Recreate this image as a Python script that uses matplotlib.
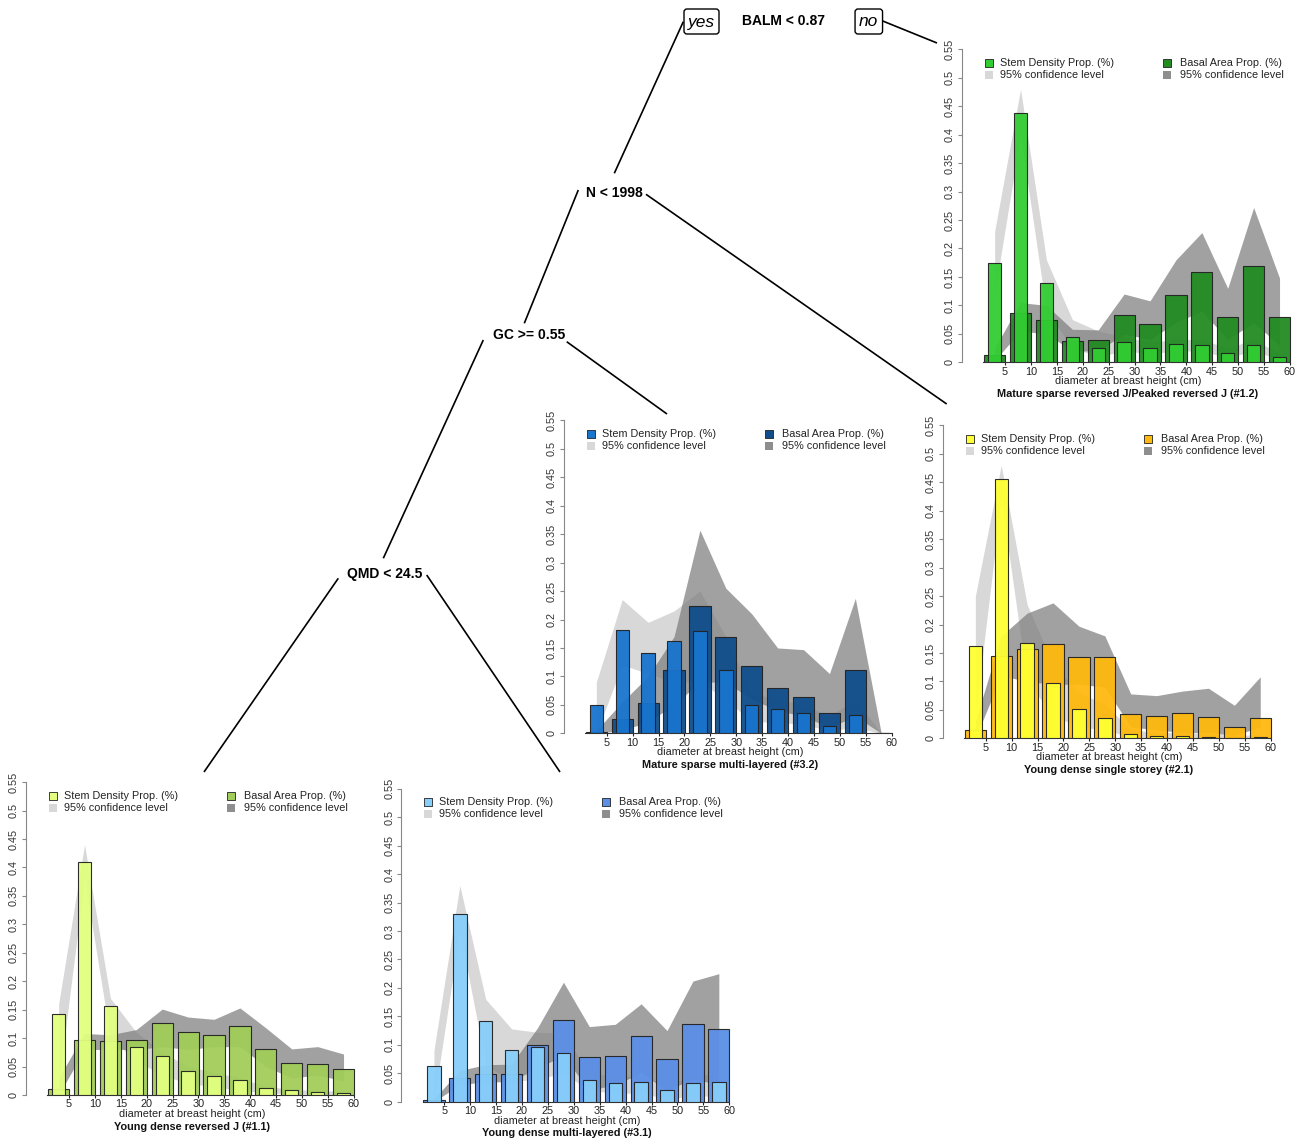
import numpy as np
import matplotlib
matplotlib.use("Agg")
import matplotlib.pyplot as plt
from matplotlib.patches import FancyBboxPatch

plt.rcParams['font.family'] = ['Liberation Sans', 'DejaVu Sans']

W, H = 1314, 1144

# diameter class centres (cm)
dbh = [3, 8, 13, 18, 23, 28, 33, 38, 43, 48, 53, 58]
xticks = [5, 10, 15, 20, 25, 30, 35, 40, 45, 50, 55, 60]
yticks = [0, 0.05, 0.1, 0.15, 0.2, 0.25, 0.3, 0.35, 0.4, 0.45, 0.5, 0.55]
ylabels = ["0", "0.05", "0.1", "0.15", "0.2", "0.25", "0.3", "0.35", "0.4", "0.45", "0.5", "0.55"]

# panel #1.2  Mature sparse reversed J/Peaked reversed J
stem_12 = [0.175, 0.439, 0.140, 0.044, 0.025, 0.036, 0.025, 0.032, 0.031, 0.017, 0.031, 0.010]
basal_12 = [0.012, 0.086, 0.074, 0.037, 0.039, 0.084, 0.068, 0.119, 0.158, 0.079, 0.170, 0.080]
stem_lo_12 = [0.12, 0.40, 0.09, 0.025, 0.01, 0.02, 0.015, 0.02, 0.02, 0.008, 0.02, 0.005]
stem_hi_12 = [0.23, 0.48, 0.18, 0.075, 0.055, 0.045, 0.035, 0.04, 0.04, 0.025, 0.04, 0.015]
basal_lo_12 = [0.003, 0.055, 0.05, 0.02, 0.02, 0.05, 0.04, 0.07, 0.09, 0.04, 0.07, 0.03]
basal_hi_12 = [0.025, 0.105, 0.10, 0.058, 0.057, 0.12, 0.108, 0.18, 0.228, 0.13, 0.272, 0.148]

# panel #3.2  Mature sparse multi-layered
stem_32 = [0.049, 0.181, 0.142, 0.162, 0.180, 0.111, 0.049, 0.042, 0.035, 0.013, 0.032, 0.0]
basal_32 = [0.002, 0.026, 0.054, 0.112, 0.223, 0.170, 0.118, 0.079, 0.064, 0.035, 0.112, 0.0]
stem_lo_32 = [0.0, 0.12, 0.105, 0.09, 0.09, 0.06, 0.02, 0.02, 0.015, 0.005, 0.01, 0.0]
stem_hi_32 = [0.09, 0.235, 0.195, 0.215, 0.25, 0.17, 0.07, 0.06, 0.05, 0.03, 0.06, 0.0]
basal_lo_32 = [0.0, 0.005, 0.02, 0.05, 0.09, 0.09, 0.06, 0.04, 0.03, 0.01, 0.03, 0.0]
basal_hi_32 = [0.005, 0.055, 0.10, 0.17, 0.357, 0.255, 0.21, 0.15, 0.147, 0.105, 0.237, 0.0]

# panel #2.1  Young dense single storey
stem_21 = [0.162, 0.455, 0.168, 0.097, 0.051, 0.036, 0.007, 0.004, 0.004, 0.003, 0.001, 0.002]
basal_21 = [0.015, 0.145, 0.157, 0.166, 0.143, 0.143, 0.042, 0.040, 0.045, 0.038, 0.019, 0.036]
stem_lo_21 = [0.04, 0.42, 0.10, 0.04, 0.02, 0.015, 0.002, 0.001, 0.001, 0.0, 0.0, 0.0]
stem_hi_21 = [0.25, 0.48, 0.235, 0.13, 0.08, 0.06, 0.015, 0.01, 0.01, 0.008, 0.005, 0.006]
basal_lo_21 = [0.0, 0.11, 0.10, 0.095, 0.095, 0.09, 0.02, 0.015, 0.01, 0.01, 0.005, 0.02]
basal_hi_21 = [0.03, 0.18, 0.22, 0.238, 0.197, 0.18, 0.078, 0.075, 0.083, 0.088, 0.058, 0.108]

# panel #1.1  Young dense reversed J
stem_11 = [0.142, 0.410, 0.156, 0.085, 0.069, 0.043, 0.034, 0.026, 0.013, 0.008, 0.005, 0.004]
basal_11 = [0.010, 0.096, 0.095, 0.096, 0.127, 0.111, 0.106, 0.121, 0.081, 0.057, 0.055, 0.046]
stem_lo_11 = [0.02, 0.38, 0.10, 0.06, 0.035, 0.02, 0.015, 0.008, 0.004, 0.002, 0.001, 0.001]
stem_hi_11 = [0.16, 0.44, 0.17, 0.11, 0.075, 0.05, 0.04, 0.03, 0.015, 0.01, 0.008, 0.006]
basal_lo_11 = [0.0, 0.08, 0.08, 0.08, 0.085, 0.08, 0.085, 0.085, 0.05, 0.03, 0.035, 0.025]
basal_hi_11 = [0.03, 0.108, 0.106, 0.115, 0.151, 0.137, 0.133, 0.153, 0.118, 0.081, 0.085, 0.072]

# panel #3.1  Young dense multi-layered
stem_31 = [0.063, 0.330, 0.141, 0.091, 0.096, 0.085, 0.038, 0.032, 0.034, 0.020, 0.032, 0.034]
basal_31 = [0.003, 0.041, 0.049, 0.049, 0.100, 0.144, 0.078, 0.080, 0.115, 0.075, 0.137, 0.127]
stem_lo_31 = [0.0, 0.30, 0.065, 0.035, 0.04, 0.05, 0.02, 0.015, 0.015, 0.005, 0.01, 0.01]
stem_hi_31 = [0.09, 0.38, 0.18, 0.128, 0.122, 0.12, 0.05, 0.045, 0.045, 0.03, 0.045, 0.05]
basal_lo_31 = [0.0, 0.03, 0.035, 0.035, 0.06, 0.08, 0.02, 0.03, 0.05, 0.02, 0.04, 0.03]
basal_hi_31 = [0.005, 0.055, 0.065, 0.066, 0.13, 0.21, 0.132, 0.136, 0.172, 0.125, 0.212, 0.225]

# tree split labels
splits = ["BALM < 0.87", "N < 1998", "GC >= 0.55", "QMD < 24.5"]

fig = plt.figure(figsize=(W / 100, H / 100), dpi=100)

PXX = 5.18    # pixels per cm
PXY = 569.0   # pixels per unit proportion


def panel(x5, y0, stem, basal, slo, shi, blo, bhi, cs, cb, title):
    # x5, y0: pixel position of the x=5 tick and of y=0
    xl, xr = -3.3, 62.0
    left = x5 - 25.9 + xl * PXX
    ax = fig.add_axes([left / W, (H - y0) / H, (xr - xl) * PXX / W, 0.56 * PXY / H])
    ax.set_xlim(xl, xr)
    ax.set_ylim(0, 0.56)
    ax.fill_between(dbh, slo, shi, color='#c4c4c4', alpha=0.65, lw=0, zorder=1)
    ax.fill_between(dbh, blo, bhi, color='#7a7a7a', alpha=0.7, lw=0, zorder=2)
    ax.bar(dbh, basal, width=4.1, color=cb, edgecolor='#222222', linewidth=0.8, alpha=0.95, zorder=3)
    ax.bar(dbh, stem, width=2.6, color=cs, edgecolor='#222222', linewidth=0.8, alpha=0.95, zorder=4)
    for s in ['top', 'right']:
        ax.spines[s].set_visible(False)
    ax.spines['left'].set_bounds(0, 0.55)
    ax.spines['left'].set_color('#888888')
    ax.spines['bottom'].set_bounds(0.8, 60)
    ax.spines['bottom'].set_color('#333333')
    ax.set_xticks(xticks)
    ax.set_yticks(yticks)
    ax.set_yticklabels(ylabels, rotation=90, va='center')
    ax.tick_params(axis='x', labelsize=7.8, length=2.5, width=0.8, pad=0.6, colors='#222222')
    ax.tick_params(axis='y', labelsize=7.8, length=3, width=0.8, pad=2, color='#888888', labelcolor='#333333')
    ax.patch.set_alpha(0)
    # legend
    r1, r2 = 0.526, 0.505
    ax.scatter([1.9], [r1], marker='s', s=26, c=cs, edgecolors='#222222', linewidths=0.6, zorder=5, clip_on=False)
    ax.scatter([1.9], [r2], marker='s', s=26, c='#d8d8d8', linewidths=0, zorder=5)
    ax.scatter([36.3], [r1], marker='s', s=26, c=cb, edgecolors='#222222', linewidths=0.6, zorder=5)
    ax.scatter([36.3], [r2], marker='s', s=26, c='#8e8e8e', linewidths=0, zorder=5)
    ax.text(4.0, r1, 'Stem Density Prop. (%)', va='center', fontsize=7.8, color='#222222')
    ax.text(4.0, r2, '95% confidence level', va='center', fontsize=7.8, color='#222222')
    ax.text(38.8, r1, 'Basal Area Prop. (%)', va='center', fontsize=7.8, color='#222222')
    ax.text(38.8, r2, '95% confidence level', va='center', fontsize=7.8, color='#222222')
    ov.text(x5 + 123, y0 + 21.8, 'diameter at breast height (cm)', ha='center', va='baseline',
            fontsize=7.8, color='#222222')
    ov.text(x5 + 123, y0 + 34.5, title, ha='center', va='baseline', fontsize=7.8,
            fontweight='bold', color='#111111')
    return ax


# overlay in pixel coordinates for the tree
ov = fig.add_axes([0, 0, 1, 1], zorder=10)
ov.set_xlim(0, W)
ov.set_ylim(H, 0)
ov.axis('off')
ov.patch.set_alpha(0)

panel(1005, 362.3, stem_12, basal_12, stem_lo_12, stem_hi_12, basal_lo_12, basal_hi_12,
      '#32CD32', '#228B22', 'Mature sparse reversed J/Peaked reversed J (#1.2)')
panel(606.7, 733.3, stem_32, basal_32, stem_lo_32, stem_hi_32, basal_lo_32, basal_hi_32,
      '#1874CD', '#104E8B', 'Mature sparse multi-layered (#3.2)')
panel(985.7, 738.3, stem_21, basal_21, stem_lo_21, stem_hi_21, basal_lo_21, basal_hi_21,
      '#FFFF33', '#FFB90F', 'Young dense single storey (#2.1)')
panel(69, 1095, stem_11, basal_11, stem_lo_11, stem_hi_11, basal_lo_11, basal_hi_11,
      '#E2FF80', '#A2CD5A', 'Young dense reversed J (#1.1)')
panel(444.3, 1101.7, stem_31, basal_31, stem_lo_31, stem_hi_31, basal_lo_31, basal_hi_31,
      '#87CEFA', '#5B8FE6', 'Young dense multi-layered (#3.1)')

# tree edges
edges = [((683.3, 21.7), (614.3, 173.3)),
         ((882.7, 21.0), (937.0, 43.0)),
         ((578.3, 190.0), (524.3, 323.3)),
         ((646.0, 194.3), (946.7, 404.0)),
         ((483.3, 340.0), (383.3, 558.3)),
         ((566.7, 341.7), (667.0, 414.0)),
         ((338.3, 578.3), (204.0, 772.0)),
         ((426.7, 575.0), (560.0, 772.0))]
for (xa, ya), (xb, yb) in edges:
    ov.plot([xa, xb], [ya, yb], color='black', lw=1.2, solid_capstyle='butt')

ov.text(783, 21, splits[0], ha='center', va='center', fontsize=10, fontweight='bold')
ov.text(614, 193, splits[1], ha='center', va='center', fontsize=10, fontweight='bold')
ov.text(529, 335, splits[2], ha='center', va='center', fontsize=10, fontweight='bold')
ov.text(385, 574, splits[3], ha='center', va='center', fontsize=10, fontweight='bold')

for cx, lab, wbox in [(701.5, 'yes', 35), (868.8, 'no', 27.5)]:
    ov.add_patch(FancyBboxPatch((cx - wbox / 2 + 3, 12), wbox - 6, 19,
                                boxstyle='round,pad=3', fc='white', ec='black', lw=1.0))
    ov.text(cx, 22, lab, ha='center', va='center', fontsize=12.5, fontstyle='italic')

fig.savefig('out.png', dpi=100)
